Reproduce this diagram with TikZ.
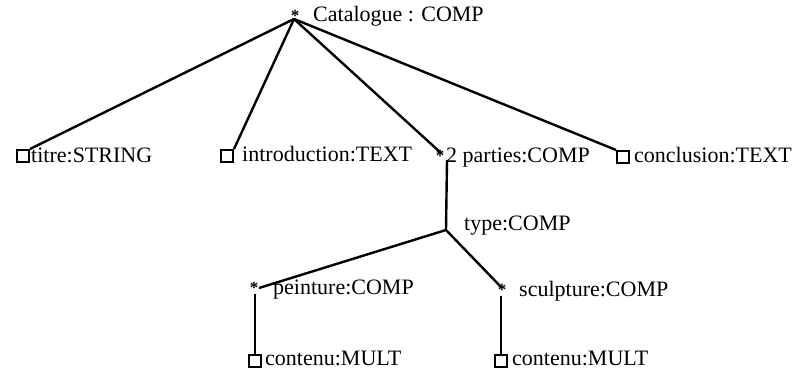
\documentclass[tikz,border=0pt]{standalone}
\usepackage{fontspec}
\setmainfont{Liberation Serif}
\begin{document}
\begin{tikzpicture}[x=1pt,y=-1pt,
  lbl/.style={anchor=base west,inner sep=0pt,font=\fontsize{22}{24}\selectfont},
  leafbox/.style={draw,line width=2pt,minimum size=12pt,inner sep=0pt},
  compmark/.style={inner sep=0pt,font=\fontsize{17}{17}\bfseries\selectfont},
  edge/.style={line width=2.4pt}]
\useasboundingbox (0,0) rectangle (801,371);

% root
\coordinate (root) at (294,19);
\node[compmark] (rootstar) at (295,16) {*};
\node[lbl] (rootlbl) at (313,22) {Catalogue : COMP};

% first level
\node[leafbox] (titre) at (23,156) {};
\node[lbl] (titrelbl) at (31,163) {titre:STRING};
\node[leafbox] (intro) at (227,156) {};
\node[lbl] (introlbl) at (242,162) {introduction:TEXT};
\coordinate (parties) at (441,153);
\node[compmark] (partiesstar) at (440,156) {*};
\node[lbl] (partieslbl) at (446,163) {2 parties:COMP};
\node[leafbox] (concl) at (623,157) {};
\node[lbl] (concllbl) at (634,163) {conclusion:TEXT};

% type level
\coordinate (ptop) at (447,160);
\coordinate (type) at (446,230);
\node[lbl] (typelbl) at (464,231) {type:COMP};

% second level
\coordinate (peint) at (259,288);
\node[compmark] (peintstar) at (254,288) {*};
\node[lbl] (peintlbl) at (273,295) {peinture:COMP};
\coordinate (sculp) at (502,288);
\node[compmark] (sculpstar) at (502,290) {*};
\node[lbl] (sculplbl) at (519,297) {sculpture:COMP};

% leaves
\coordinate (ptop2) at (255,294);
\node[leafbox] (cont1) at (255,361) {};
\node[lbl] (cont1lbl) at (265,366) {contenu:MULT};
\coordinate (stop2) at (501,296);
\node[leafbox] (cont2) at (501,361) {};
\node[lbl] (cont2lbl) at (512,366) {contenu:MULT};

% connectors
\draw[edge] (root) -- (titre.north east);
\draw[edge] (root) -- (intro.north east);
\draw[edge] (root) -- (parties);
\draw[edge] (root) -- (concl.north west);
\draw[edge] (ptop) -- (type);
\draw[edge] (type) -- (peint);
\draw[edge] (type) -- (sculp);
\draw[edge] (ptop2) -- (cont1.north);
\draw[edge] (stop2) -- (cont2.north);
\end{tikzpicture}
\end{document}
